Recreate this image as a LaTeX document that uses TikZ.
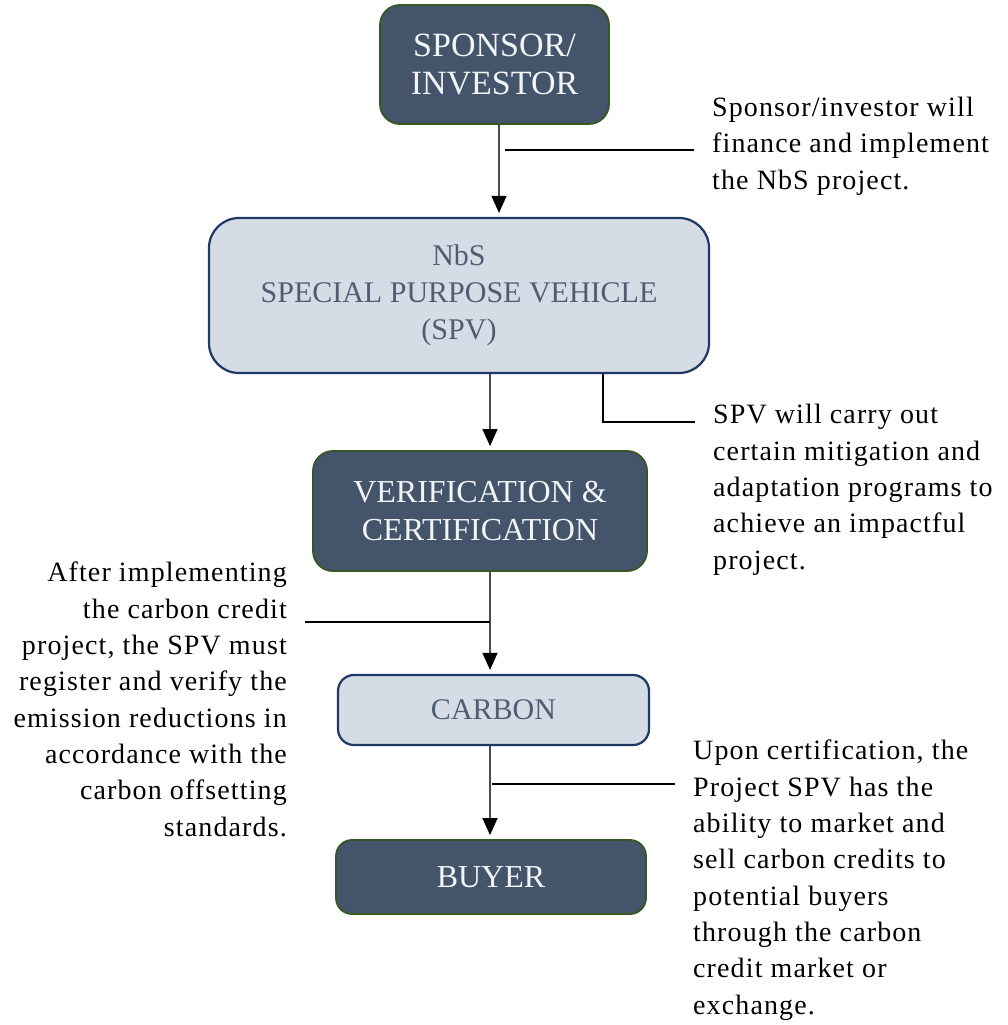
\documentclass[tikz,border=0pt]{standalone}
\usepackage{fontspec}
\setmainfont{Liberation Serif}
\newfontfamily\notefont{Liberation Serif}[LetterSpace=4]
\usetikzlibrary{arrows.meta}
\definecolor{slate}{HTML}{44546A}
\definecolor{pale}{HTML}{D6DCE5}
\definecolor{moss}{HTML}{385723}
\definecolor{navy}{HTML}{1F3864}
\definecolor{lighttext}{HTML}{F2F4F6}
\definecolor{paletext}{HTML}{4F5D73}
\tikzstyle{darkbox} = [rectangle, rounded corners=20pt, fill=slate, draw=moss, line width=1.8pt, text=lighttext, align=center, font=\fontsize{32}{38}\selectfont]
\tikzstyle{lightbox} = [rectangle, rounded corners=24pt, fill=pale, draw=navy, line width=2.2pt, text=paletext, align=center, font=\fontsize{30}{37}\selectfont]
\tikzstyle{note} = [inner xsep=18pt, inner ysep=0pt, font=\notefont\fontsize{28}{36.3}\selectfont]
\tikzstyle{flow} = [draw=black!70, line width=1.4pt, shorten >=4pt, -{Triangle[length=17pt,width=15pt,color=black]}]
\tikzstyle{call} = [line width=1.8pt]

\begin{document}
\begin{tikzpicture}[x=1pt,y=-1pt]
                \useasboundingbox (0,0) rectangle (1008,1025);
                \node[darkbox, minimum width=229pt, minimum height=119pt, font=\fontsize{34}{38}\selectfont] (spons) at (494.5,64.5) {SPONSOR/\\INVESTOR};
                \node[lightbox, minimum width=500pt, minimum height=155pt, rounded corners=30pt] (nbs) at (459,295.5) {NbS\\SPECIAL PURPOSE VEHICLE\\(SPV)};
                \node[darkbox, minimum width=334pt, minimum height=120pt] (verif) at (480,511) {VERIFICATION \&\\CERTIFICATION};
                \node[lightbox, minimum width=311pt, minimum height=70pt, rounded corners=16pt] (carbon) at (493.5,710) {CARBON};
                \node[darkbox, minimum width=310pt, minimum height=74pt, rounded corners=16pt] (buyer) at (491,877) {BUYER};

                \coordinate (a1) at (499,0);
                \coordinate (ax) at (490,0);
                \draw[flow] (spons.south -| a1) -- (nbs.north -| a1);
                \draw[flow] (nbs.south -| ax) -- (verif.north -| ax);
                \draw[flow] (verif.south -| ax) -- (carbon.north -| ax);
                \draw[flow] (carbon.south -| ax) -- (buyer.north -| ax);

                \node[note, anchor=base west, align=left] (t1) at (694,189) {Sponsor/investor will\\finance and implement\\the NbS project.};
                \node[note, anchor=base west, align=left] (t2) at (695,569) {SPV will carry out\\certain mitigation and\\adaptation programs to\\achieve an impactful\\project.};
                \node[note, anchor=base east, align=right] (t3) at (305,836) {After implementing\\the carbon credit\\project, the SPV must\\register and verify the\\emission reductions in\\accordance with the\\carbon offsetting\\standards.};
                \node[note, anchor=base west, align=left] (t4) at (675,1014) {Upon certification, the\\Project SPV has the\\ability to market and\\sell carbon credits to\\potential buyers\\through the carbon\\credit market or\\exchange.};

                \coordinate (k1) at (505,150);
                \coordinate (k2) at (603,422);
                \coordinate (k3) at (490,622);
                \coordinate (k4) at (492,784);
                \draw[call] (k1) -- (t1.west |- k1);
                \draw[call] (nbs.south -| k2) -- (k2) -- (t2.west |- k2);
                \draw[call] (t3.east |- k3) -- (k3);
                \draw[call] (k4) -- (t4.west |- k4);
            \end{tikzpicture}
\end{document}
